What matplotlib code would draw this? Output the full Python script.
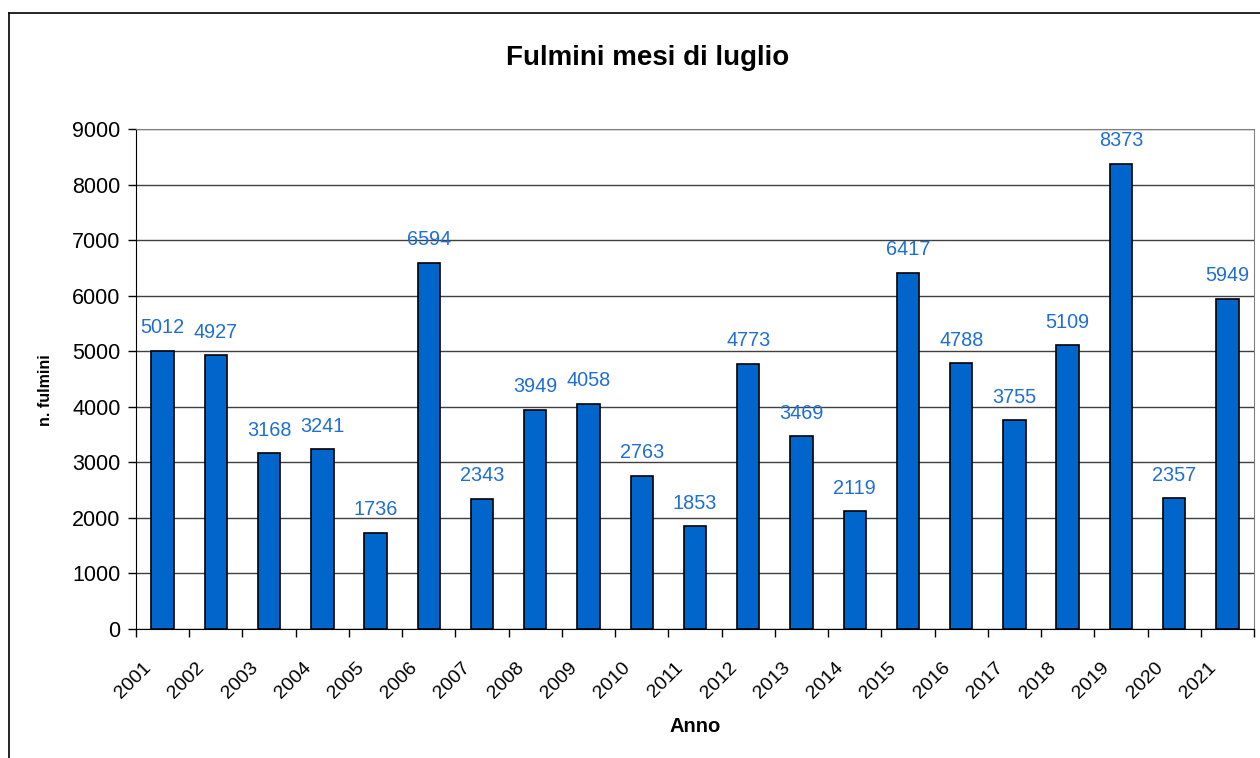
import matplotlib.pyplot as plt
import matplotlib.transforms as mtransforms
import numpy as np
from matplotlib.lines import Line2D

plt.rcParams['font.family'] = ['Liberation Sans', 'DejaVu Sans']

anni = ['2001', '2002', '2003', '2004', '2005', '2006', '2007', '2008', '2009', '2010', '2011',
        '2012', '2013', '2014', '2015', '2016', '2017', '2018', '2019', '2020', '2021']
fulmini = [5012, 4927, 3168, 3241, 1736, 6594, 2343, 3949, 4058, 2763, 1853,
           4773, 3469, 2119, 6417, 4788, 3755, 5109, 8373, 2357, 5949]

fig = plt.figure(figsize=(12.6, 7.58), dpi=100)
ax = fig.add_axes([136 / 1260, 1 - 629 / 758, (1254 - 136) / 1260, (629 - 129) / 758])

x = np.arange(len(anni))
ax.bar(x, fulmini, width=0.42, color='#0066CC', edgecolor='black', linewidth=1.2, zorder=3)

# etichette dati sopra le barre
for xi, v in zip(x, fulmini):
    ax.annotate(str(v), (xi, v), xytext=(0, 16.5), textcoords='offset points',
                ha='center', va='center', color='#1F6FD0', fontsize=14.3)

ax.set_xlim(-0.5, len(anni) - 0.5)
ax.set_ylim(0, 9000)
ax.set_yticks(range(0, 9001, 1000))
ax.yaxis.grid(True, color='#404040', linewidth=1, zorder=0)

ax.set_xticks(x)
ax.set_xticklabels(anni, rotation=45, ha='right', rotation_mode='anchor', fontsize=14)
ax.set_xticks(np.arange(len(anni) + 1) - 0.5, minor=True)
ax.tick_params(axis='x', which='major', length=0, pad=20)
ax.tick_params(axis='x', which='minor', length=6, width=1, direction='out')
ax.tick_params(axis='y', length=6, width=1, labelsize=15.5, pad=5)

# sposta le etichette dell'asse x verso sinistra
shift = mtransforms.ScaledTranslation(-20 / 100, -2 / 100, fig.dpi_scale_trans)
for lab in ax.get_xticklabels():
    lab.set_transform(lab.get_transform() + shift)

for s in ['top', 'right']:
    ax.spines[s].set_color('#808080')
for s in ['left', 'bottom']:
    ax.spines[s].set_color('black')

fig.text(46 / 1260, 1 - 390 / 758, 'n. fulmini', rotation=90, ha='center', va='center',
         fontweight='bold', fontsize=11.5)
fig.text(695 / 1260, 1 - 726 / 758, 'Anno', ha='center', va='center',
         fontweight='bold', fontsize=14.5)
fig.text(648 / 1260, 1 - 65 / 758, 'Fulmini mesi di luglio', ha='center', va='baseline',
         fontweight='bold', fontsize=20)

# cornice esterna del grafico
fig.add_artist(Line2D([9 / 1260, 9 / 1260], [0, 1 - 13 / 758], color='black', lw=1.2))
fig.add_artist(Line2D([9 / 1260, 1], [1 - 13 / 758, 1 - 13 / 758], color='black', lw=1.2))

plt.savefig('out.png', dpi=100)
